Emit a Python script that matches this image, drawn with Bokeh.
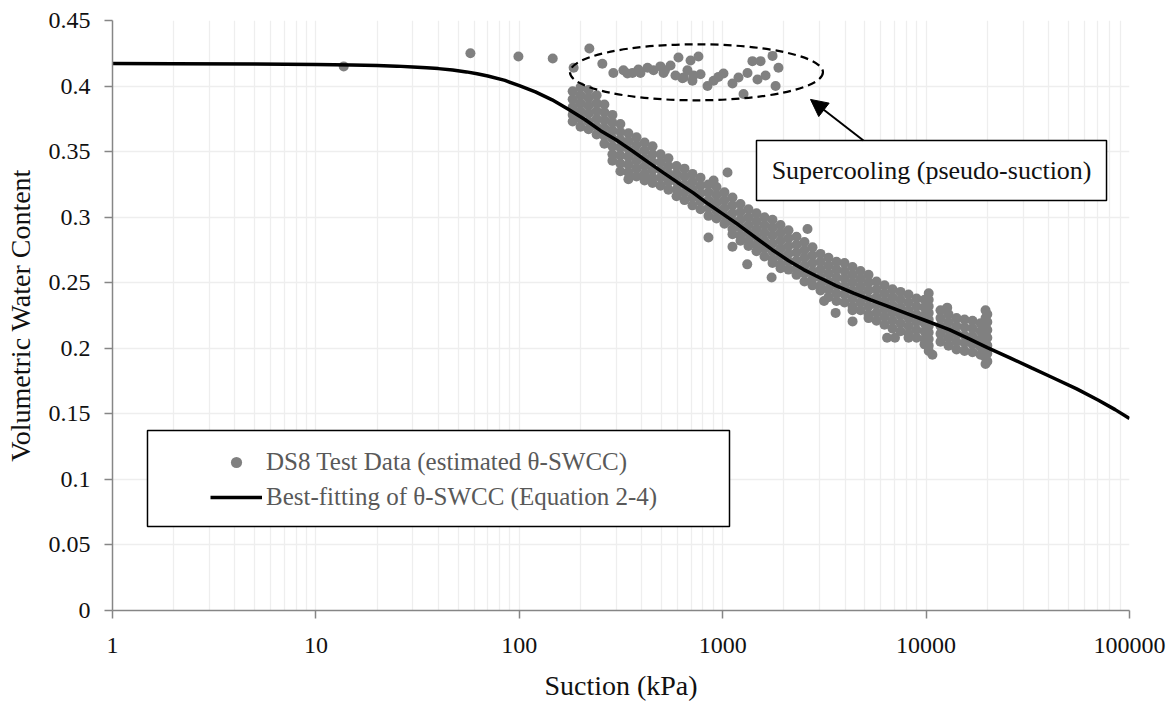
from bokeh.plotting import figure
from bokeh.models import (Range1d, FixedTicker, SingleIntervalTicker, NumeralTickFormatter,
                          Legend, LegendItem, BoxAnnotation, Label, Arrow, NormalHead)
from bokeh.embed import file_html
from bokeh.resources import INLINE

FONT = "Liberation Serif"

# ---------------- data ----------------
# isolated points at low suction
iso_suction = [13.7, 57.5, 99, 146, 185, 221]
iso_theta = [0.415, 0.425, 0.4225, 0.421, 0.414, 0.4287]

# supercooling (pseudo-suction) cluster
sc_suction = [256, 290, 325, 340, 360, 385, 394, 427, 457, 494, 512, 520, 554, 586, 606, 634,
              644, 671, 695, 710, 719, 760, 778, 842, 902, 953, 1009, 1117, 1196, 1266, 1324,
              1400, 1483, 1535, 1624, 1758, 1820, 1880]
sc_theta = [0.417, 0.410, 0.412, 0.4096, 0.410, 0.4126, 0.410, 0.414, 0.412, 0.415, 0.410, 0.412,
            0.4157, 0.408, 0.4218, 0.406, 0.4066, 0.412, 0.4195, 0.404, 0.408, 0.4225, 0.409,
            0.400, 0.404, 0.407, 0.4096, 0.402, 0.4065, 0.394, 0.410, 0.419, 0.405, 0.419,
            0.408, 0.423, 0.400, 0.414]

# main drying branch, column by column (suction in kPa, theta values in that column)
band_suction = [183, 200, 219, 240, 262, 287, 314, 344, 377, 413, 452, 495, 541, 593, 649, 710,
                778, 851, 932, 1020, 1117, 1223, 1339, 1466, 1605, 1757, 1924, 2106, 2306, 2524,
                2764, 3026, 3313, 3627, 3971, 4347, 4760, 5211, 5705, 6246, 6838, 7486, 8196,
                8973, 9823, 10300, 11770, 12890, 14110, 15450, 16910, 18520, 19600, 20000]
band_theta = [
    [0.396, 0.390, 0.384, 0.378, 0.373],
    [0.399, 0.393, 0.387, 0.381, 0.375, 0.369],
    [0.397, 0.391, 0.385, 0.379, 0.373, 0.367],
    [0.393, 0.387, 0.381, 0.375, 0.369, 0.363],
    [0.386, 0.380, 0.374, 0.368, 0.362, 0.356],
    [0.378, 0.372, 0.366, 0.360, 0.354, 0.348, 0.343],
    [0.371, 0.365, 0.359, 0.353, 0.347, 0.341, 0.335],
    [0.364, 0.358, 0.352, 0.346, 0.340, 0.334, 0.329],
    [0.361, 0.355, 0.349, 0.343, 0.337, 0.331],
    [0.357, 0.351, 0.345, 0.339, 0.333, 0.328],
    [0.354, 0.348, 0.342, 0.336, 0.330, 0.326],
    [0.348, 0.342, 0.336, 0.330, 0.324],
    [0.345, 0.339, 0.333, 0.327, 0.321],
    [0.339, 0.333, 0.327, 0.321, 0.316],
    [0.337, 0.331, 0.325, 0.319, 0.313],
    [0.333, 0.327, 0.321, 0.315, 0.309],
    [0.330, 0.324, 0.318, 0.312, 0.306],
    [0.325, 0.319, 0.313, 0.307, 0.301],
    [0.323, 0.317, 0.311, 0.305, 0.299],
    [0.319, 0.313, 0.307, 0.301, 0.295],
    [0.315, 0.309, 0.303, 0.297, 0.291, 0.287],
    [0.310, 0.304, 0.298, 0.292, 0.286, 0.282],
    [0.306, 0.300, 0.294, 0.288, 0.282, 0.278],
    [0.303, 0.297, 0.291, 0.285, 0.279, 0.274],
    [0.300, 0.294, 0.288, 0.282, 0.276, 0.270],
    [0.298, 0.292, 0.286, 0.280, 0.274, 0.268, 0.265],
    [0.294, 0.288, 0.282, 0.276, 0.270, 0.264, 0.261],
    [0.290, 0.284, 0.278, 0.272, 0.266, 0.260],
    [0.285, 0.279, 0.273, 0.267, 0.261, 0.256],
    [0.281, 0.275, 0.269, 0.263, 0.257, 0.251],
    [0.277, 0.271, 0.265, 0.259, 0.253, 0.248],
    [0.272, 0.266, 0.260, 0.254, 0.248, 0.244],
    [0.269, 0.263, 0.257, 0.251, 0.245, 0.239],
    [0.266, 0.260, 0.254, 0.248, 0.242, 0.236],
    [0.265, 0.259, 0.253, 0.247, 0.241, 0.235],
    [0.262, 0.256, 0.250, 0.244, 0.238, 0.232, 0.229],
    [0.259, 0.253, 0.247, 0.241, 0.235, 0.229],
    [0.256, 0.250, 0.244, 0.238, 0.232, 0.226, 0.223],
    [0.251, 0.245, 0.239, 0.233, 0.227, 0.221],
    [0.248, 0.242, 0.236, 0.230, 0.224, 0.218],
    [0.245, 0.239, 0.233, 0.227, 0.221, 0.215],
    [0.243, 0.237, 0.231, 0.225, 0.219, 0.213],
    [0.241, 0.235, 0.229, 0.223, 0.217, 0.211, 0.208],
    [0.238, 0.232, 0.226, 0.220, 0.214, 0.208],
    [0.237, 0.231, 0.225, 0.219, 0.213, 0.207, 0.203],
    [0.242, 0.237, 0.232, 0.227, 0.222, 0.217, 0.212, 0.207, 0.202, 0.198],
    [0.229, 0.223, 0.217, 0.211, 0.205],
    [0.226, 0.220, 0.214, 0.208, 0.202],
    [0.223, 0.217, 0.211, 0.205, 0.199],
    [0.222, 0.216, 0.210, 0.204, 0.198],
    [0.221, 0.215, 0.209, 0.203, 0.197],
    [0.219, 0.213, 0.207, 0.201, 0.195],
    [0.229, 0.223, 0.217, 0.211, 0.205, 0.199, 0.193, 0.188],
    [0.226, 0.220, 0.214, 0.208, 0.202, 0.196, 0.190],
]

# scattered outliers
out_suction = [1056, 851, 902, 2612, 1740, 1320, 1117, 3590, 4350, 6430, 7030, 3150, 12700, 10740]
out_theta = [0.334, 0.2845, 0.328, 0.291, 0.254, 0.264, 0.2775, 0.227, 0.2205, 0.208, 0.208,
             0.236, 0.231, 0.195]

# best-fitting theta-SWCC curve
curve_suction = [1, 2, 5, 10, 15, 20, 25, 30, 35, 40, 47, 55, 62, 70, 85, 100, 120, 145, 175,
                 210, 251, 300, 360, 430, 510, 600, 717, 850, 1000, 1200, 1450, 1750, 2100, 2500,
                 3000, 3600, 4400, 5340, 6500, 8000, 10000, 13000, 16000, 20000, 26000, 33000,
                 42000, 55000, 70000, 85000, 100000]
curve_theta = [0.4172, 0.4171, 0.4169, 0.4165, 0.4161, 0.4157, 0.4152, 0.4146, 0.4140, 0.4133,
               0.4122, 0.4108, 0.4094, 0.4077, 0.4043, 0.4003, 0.3955, 0.3895, 0.3822, 0.3745,
               0.3660, 0.3588, 0.3505, 0.3420, 0.3340, 0.3265, 0.3185, 0.3100, 0.3025, 0.2940,
               0.2845, 0.2752, 0.2670, 0.2600, 0.2538, 0.2478, 0.2420, 0.2370, 0.2320, 0.2266,
               0.2210, 0.2142, 0.2077, 0.2005, 0.1925, 0.1850, 0.1775, 0.1690, 0.1606, 0.1532,
               0.1464]

x_ticks = [1, 10, 100, 1000, 10000, 100000]

# ---------------- assemble ----------------
pts_x = list(iso_suction) + list(sc_suction) + list(out_suction)
pts_y = list(iso_theta) + list(sc_theta) + list(out_theta)
for s, col in zip(band_suction, band_theta):
    for t in col:
        pts_x.append(s)
        pts_y.append(t)

p = figure(width=1172, height=705, x_axis_type="log",
           x_range=Range1d(1, 100000), y_range=Range1d(0, 0.45),
           output_backend="svg", toolbar_location=None,
           min_border_left=112, min_border_right=43, min_border_top=20, min_border_bottom=95)
p.outline_line_color = None
p.background_fill_color = "white"
p.border_fill_color = "white"

minor = [m * 10 ** k for k in range(5) for m in range(2, 10)]
p.xaxis.ticker = FixedTicker(ticks=x_ticks, minor_ticks=minor)
p.xaxis.formatter = NumeralTickFormatter(format="0")
p.yaxis.ticker = SingleIntervalTicker(interval=0.05, num_minor_ticks=0)
p.yaxis.formatter = NumeralTickFormatter(format="0.[00]")

for ax in (p.xaxis, p.yaxis):
    ax.axis_line_color = "#868686"
    ax.axis_line_width = 1.5
    ax.major_tick_line_color = "#868686"
    ax.major_tick_line_width = 1.5
    ax.major_tick_out = 8
    ax.major_tick_in = 0
    ax.minor_tick_out = 0
    ax.minor_tick_in = 0
    ax.major_label_text_font = FONT
    ax.major_label_text_font_size = "24px"
    ax.major_label_text_color = "#111111"
    ax.axis_label_text_font = FONT
    ax.axis_label_text_font_size = "28px"
    ax.axis_label_text_font_style = "normal"
    ax.axis_label_text_color = "#111111"

p.xaxis.axis_label = "Suction (kPa)"
p.yaxis.axis_label = "Volumetric Water Content"
p.xaxis.major_label_standoff = 19
p.yaxis.major_label_standoff = 14
p.xaxis.axis_label_standoff = 14
p.yaxis.axis_label_standoff = 10

p.xgrid.grid_line_color = "#eeeeee"
p.xgrid.grid_line_width = 1.3
p.xgrid.minor_grid_line_color = "#eeeeee"
p.xgrid.minor_grid_line_width = 1.3
p.ygrid.grid_line_color = "#eeeeee"
p.ygrid.grid_line_width = 1.3

sc = p.scatter(pts_x, pts_y, size=10, marker="circle", fill_color="#808080",
               line_color="#808080", line_width=0)
ln = p.line(curve_suction, curve_theta, line_width=3.5, line_color="black")

# dashed ellipse around the supercooling points
p.ellipse(x=[743], y=[0.4105], width=253, height=56, width_units="screen",
          height_units="screen", fill_alpha=0, line_color="black", line_width=2.2,
          line_dash="8 5")

# legend box + legend
p.add_layout(BoxAnnotation(left=1.486, right=1080, top=0.1373, bottom=0.0641,
                           fill_color="white", fill_alpha=1, line_color="black",
                           line_alpha=1, line_width=1.5))
legend = Legend(items=[LegendItem(label="DS8 Test Data (estimated θ-SWCC)", renderers=[sc]),
                       LegendItem(label="Best-fitting of θ-SWCC (Equation 2-4)", renderers=[ln])],
                location=(98, 99), padding=0, margin=0, spacing=7,
                glyph_width=52, glyph_height=28, label_standoff=4, label_height=28,
                background_fill_alpha=0, border_line_alpha=0,
                label_text_font=FONT, label_text_font_size="25px",
                label_text_color="#595959")
p.add_layout(legend)

# supercooling annotation
p.add_layout(BoxAnnotation(left=1466, right=77100, top=0.3585, bottom=0.3127,
                           fill_color="white", fill_alpha=1, line_color="black",
                           line_alpha=1, line_width=1.5))
p.add_layout(Label(x=10640, y=0.3356, text="Supercooling (pseudo-suction)",
                   text_align="center", text_baseline="middle", text_font=FONT,
                   text_font_size="26px", text_color="#111111"))
p.add_layout(Arrow(end=NormalHead(size=17, fill_color="black", line_color="black"),
                   x_start=4920, y_start=0.3585, x_end=2702, y_end=0.3898,
                   line_width=2, line_color="black"))

open("out.html", "w").write(file_html(p, INLINE))
